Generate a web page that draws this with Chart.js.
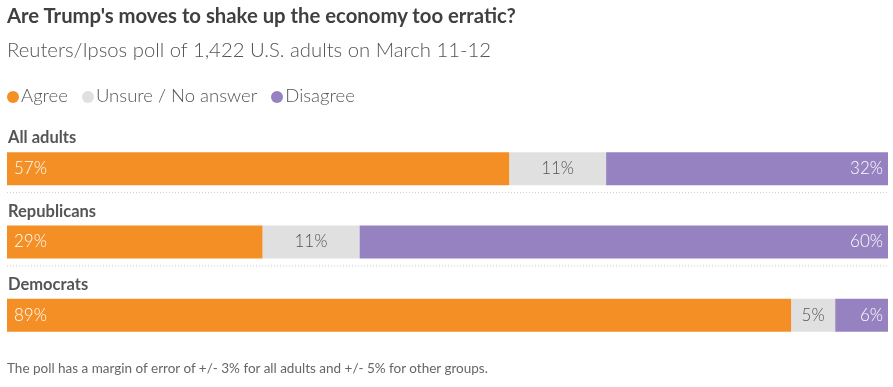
<!DOCTYPE html>
<html>
<head>
<meta charset="utf-8">
<script src="https://cdn.jsdelivr.net/npm/chart.js@4"></script>
<style>
  body { margin: 0; background: #fff; font-family: Lato, sans-serif; }
  #wrap { position: relative; width: 893px; height: 387px; }
  #chart { position: absolute; left: 0; top: 0; }
  .txt { position: absolute; left: 7px; white-space: nowrap; }
  #title { top: 3px; font-size: 20.3px; font-weight: bold; color: #404040; }
  #sub { top: 37px; font-size: 20.3px; font-weight: 300; color: #555; }
  #legend { top: 84px; font-size: 18.5px; font-weight: 300; color: #555; }
  #legend span.dot { display: inline-block; width: 12px; height: 12px; border-radius: 50%; margin-right: 2px; vertical-align: -1px; }
  #legend span.item { margin-right: 14px; }
  #note { top: 360px; font-size: 13.5px; color: #666; }
</style>
</head>
<body>
<div id="wrap">
  <canvas id="chart" width="893" height="387"></canvas>
  <div class="txt" id="title">Are Trump's moves to shake up the economy too erratic?</div>
  <div class="txt" id="sub">Reuters/Ipsos poll of 1,422 U.S. adults on March 11-12</div>
  <div class="txt" id="legend"></div>
  <div class="txt" id="note">The poll has a margin of error of +/- 3% for all adults and +/- 5% for other groups.</div>
</div>
<script>
var groups = ['All adults', 'Republicans', 'Democrats'];
var seriesNames = ['Agree', 'Unsure / No answer', 'Disagree'];
var agree = [57, 29, 89];
var unsure = [11, 11, 5];
var disagree = [32, 60, 6];
var colors = ['#f48f26', '#e0e0e0', '#9682c0'];

// legend
var legendHtml = '';
seriesNames.forEach(function(name, i) {
    legendHtml += '<span class="item"><span class="dot" style="background:' + colors[i] + '"></span>' + name + '</span>';
});
document.getElementById('legend').innerHTML = legendHtml;

// group labels, separators and values inside the bars
var barLabels = {
    id: 'barLabels',
    afterDatasetsDraw: function(chart) {
        var ctx = chart.ctx;
        var area = chart.chartArea;
        ctx.save();
        var first = chart.getDatasetMeta(0).data;
        first.forEach(function(bar, i) {
            var top = bar.y - bar.height / 2;
            var bottom = bar.y + bar.height / 2;
            ctx.font = 'bold 16.5px Lato, sans-serif';
            ctx.fillStyle = '#555';
            ctx.textAlign = 'left';
            ctx.textBaseline = 'alphabetic';
            ctx.fillText(groups[i], area.left + 1, top - 9);
            if (i < first.length - 1) {
                ctx.strokeStyle = '#cccccc';
                ctx.lineWidth = 1;
                ctx.setLineDash([1, 2]);
                ctx.beginPath();
                ctx.moveTo(area.left, bottom + 7.5);
                ctx.lineTo(area.right, bottom + 7.5);
                ctx.stroke();
                ctx.setLineDash([]);
            }
        });
        ctx.font = '300 17px Lato, sans-serif';
        ctx.textBaseline = 'middle';
        chart.data.datasets.forEach(function(ds, d) {
            chart.getDatasetMeta(d).data.forEach(function(bar, i) {
                var label = ds.data[i] + '%';
                var left = Math.min(bar.x, bar.base);
                var right = Math.max(bar.x, bar.base);
                if (d === 0) {
                    ctx.fillStyle = '#fff';
                    ctx.textAlign = 'left';
                    ctx.fillText(label, left + 7, bar.y);
                } else if (d === 1) {
                    ctx.fillStyle = '#555';
                    ctx.textAlign = 'center';
                    ctx.fillText(label, (left + right) / 2, bar.y);
                } else {
                    ctx.fillStyle = '#fff';
                    ctx.textAlign = 'right';
                    ctx.fillText(label, right - 5, bar.y);
                }
            });
        });
        ctx.restore();
    }
};

var chart = new Chart(document.getElementById('chart').getContext('2d'), {
    type: 'bar',
    data: {
        labels: groups,
        datasets: [
            { label: seriesNames[0], data: agree, backgroundColor: colors[0] },
            { label: seriesNames[1], data: unsure, backgroundColor: colors[1] },
            { label: seriesNames[2], data: disagree, backgroundColor: colors[2] }
        ]
    },
    options: {
        indexAxis: 'y',
        responsive: false,
        animation: false,
        events: [],
        layout: { padding: { top: 132, bottom: 35, left: 7, right: 5 } },
        datasets: { bar: { barPercentage: 1, categoryPercentage: 0.45, borderWidth: 0 } },
        scales: {
            x: { stacked: true, min: 0, max: 100, display: false },
            y: { stacked: true, display: false }
        },
        plugins: { legend: { display: false }, tooltip: { enabled: false } }
    },
    plugins: [barLabels]
});
</script>
</body>
</html>
